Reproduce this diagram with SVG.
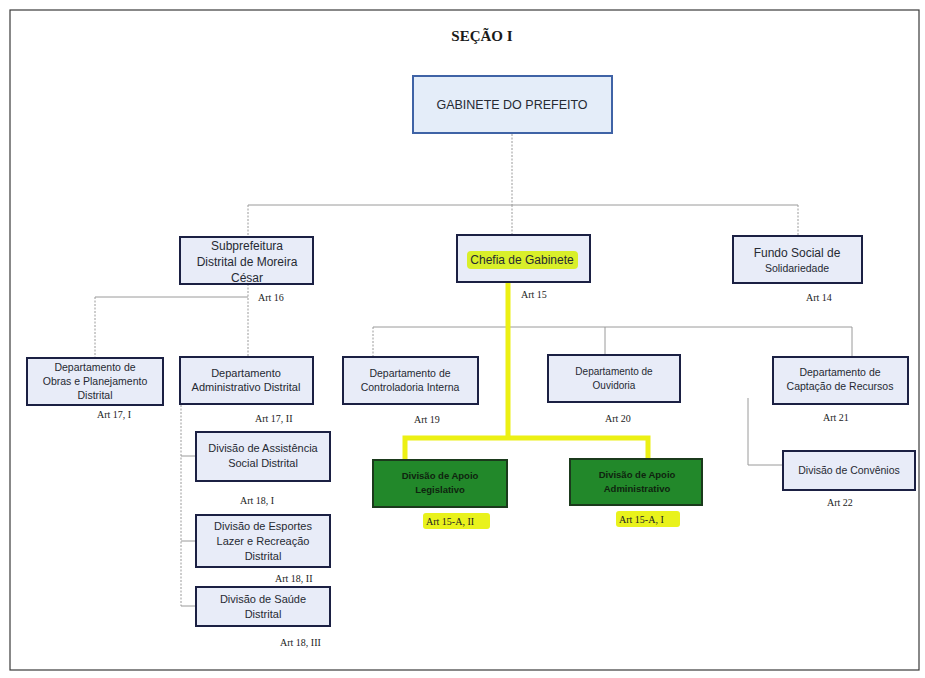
<svg xmlns="http://www.w3.org/2000/svg" width="925" height="678" viewBox="0 0 925 678">
  <defs>
    <style>
      .frame { fill: #ffffff; stroke: #3a3a3a; stroke-width: 1.2; }
      .title { font-family: "Liberation Serif", serif; font-weight: bold; font-size: 15px; fill: #1a1a1a; text-anchor: middle; }
      .box { fill: #e8ecf8; stroke: #1b2043; stroke-width: 2; }
      .top { fill: #e4edf9; stroke: #3f63a6; stroke-width: 2; }
      .green { fill: #22882a; stroke: #1b3a1c; stroke-width: 2; }
      .t { font-family: "Liberation Sans", Arial, sans-serif; fill: #262a33; text-anchor: middle; }
      .tg { font-family: "Liberation Sans", Arial, sans-serif; font-weight: bold; font-size: 9.5px; fill: #0f240f; text-anchor: middle; }
      .art { font-family: "Liberation Serif", serif; font-size: 10px; fill: #222222; }
      .ln { fill: none; stroke: #9a9a9a; stroke-width: 1; }
      .dot { fill: none; stroke: #9a9a9a; stroke-width: 1; stroke-dasharray: 2 1.5; }
      .hl { fill: none; stroke: #ecf014; stroke-width: 5; stroke-linejoin: miter; }
      .mark { fill: #e9f21c; }
      .mark2 { fill: #d9ef2a; }
    </style>
  </defs>

  <!-- page frame -->
  <rect class="frame" x="10" y="10" width="909" height="660"/>
  <text class="title" x="482" y="41">SEÇÃO I</text>

  <!-- connectors -->
  <g id="connectors">
    <path class="dot" d="M512 134 V205"/>
    <path class="ln" d="M248 205 H798"/>
    <path class="dot" d="M248 205 V237"/>
    <path class="dot" d="M512 205 V235"/>
    <path class="dot" d="M798 205 V236"/>

    <path class="dot" d="M248 284 V357"/>
    <path class="ln" d="M95 297 H248"/>
    <path class="dot" d="M95 297 V358"/>

    <path class="dot" d="M181 405 V606"/>
    <path class="ln" d="M181 456 H196"/>
    <path class="ln" d="M181 541 H196"/>
    <path class="ln" d="M181 606 H196"/>

    <path class="ln" d="M373 327 H852"/>
    <path class="dot" d="M373 327 V357"/>
    <path class="ln" d="M605 327 V355"/>
    <path class="ln" d="M852 327 V357"/>

    <path class="ln" d="M748 398 V465 H783"/>

    <path class="hl" d="M508 283 V438 M405 460 V438 H648 V459"/>
  </g>

  <g id="gabinete-prefeito">
    <rect class="top" x="413" y="76" width="199" height="57"/>
    <text class="t" x="512" y="109" font-size="12.5">GABINETE DO PREFEITO</text>
  </g>

  <g id="subprefeitura">
    <rect class="box" x="180" y="237" width="133" height="47"/>
    <text class="t" x="247" y="250" font-size="12">Subprefeitura</text>
    <text class="t" x="247" y="266" font-size="12">Distrital de Moreira</text>
    <text class="t" x="247" y="282" font-size="12">César</text>
    <text class="art" x="258" y="301">Art 16</text>
  </g>

  <g id="chefia-gabinete">
    <rect class="box" x="457" y="235" width="133" height="47"/>
    <rect class="mark2" x="467" y="251" width="111" height="18" rx="4"/>
    <text class="t" x="522" y="264" font-size="12">Chefia de Gabinete</text>
    <text class="art" x="521" y="298">Art 15</text>
  </g>

  <g id="fundo-social">
    <rect class="box" x="733" y="236" width="129" height="47"/>
    <text class="t" x="797" y="257" font-size="12">Fundo Social de</text>
    <text class="t" x="797" y="272" font-size="10.5">Solidariedade</text>
    <text class="art" x="806" y="301">Art 14</text>
  </g>

  <g id="dep-obras">
    <rect class="box" x="27" y="358" width="136" height="47"/>
    <text class="t" x="95" y="371" font-size="10.5">Departamento de</text>
    <text class="t" x="95" y="385" font-size="10.5">Obras e Planejamento</text>
    <text class="t" x="95" y="399" font-size="10.5">Distrital</text>
    <text class="art" x="97" y="418">Art 17, I</text>
  </g>

  <g id="dep-administrativo">
    <rect class="box" x="180" y="357" width="133" height="47"/>
    <text class="t" x="246" y="377" font-size="11">Departamento</text>
    <text class="t" x="246" y="391" font-size="11">Administrativo Distrital</text>
    <text class="art" x="255" y="422">Art 17, II</text>
  </g>

  <g id="dep-controladoria">
    <rect class="box" x="343" y="357" width="135" height="47"/>
    <text class="t" x="410" y="377" font-size="10.5">Departamento de</text>
    <text class="t" x="410" y="391" font-size="10.5">Controladoria Interna</text>
    <text class="art" x="414" y="423">Art 19</text>
  </g>

  <g id="dep-ouvidoria">
    <rect class="box" x="548" y="355" width="132" height="47"/>
    <text class="t" x="614" y="375" font-size="10">Departamento de</text>
    <text class="t" x="614" y="389" font-size="10">Ouvidoria</text>
    <text class="art" x="605" y="422">Art 20</text>
  </g>

  <g id="dep-captacao">
    <rect class="box" x="773" y="357" width="135" height="47"/>
    <text class="t" x="840" y="376" font-size="10.5">Departamento de</text>
    <text class="t" x="840" y="390" font-size="10.5">Captação de Recursos</text>
    <text class="art" x="823" y="421">Art 21</text>
  </g>

  <g id="div-convenios">
    <rect class="box" x="783" y="451" width="132" height="39"/>
    <text class="t" x="849" y="474" font-size="10.5">Divisão de Convênios</text>
    <text class="art" x="827" y="506">Art 22</text>
  </g>

  <g id="div-apoio-legislativo">
    <rect class="green" x="373" y="460" width="134" height="47"/>
    <text class="tg" x="440" y="479">Divisão de Apoio</text>
    <text class="tg" x="440" y="493">Legislativo</text>
    <rect class="mark" x="423" y="513" width="67" height="16" rx="3"/>
    <text class="art" x="426" y="525">Art 15-A, II</text>
  </g>

  <g id="div-apoio-administrativo">
    <rect class="green" x="570" y="459" width="132" height="46"/>
    <text class="tg" x="637" y="478">Divisão de Apoio</text>
    <text class="tg" x="637" y="492">Administrativo</text>
    <rect class="mark" x="616" y="511" width="64" height="16" rx="3"/>
    <text class="art" x="619" y="523">Art 15-A, I</text>
  </g>

  <g id="div-assistencia">
    <rect class="box" x="196" y="432" width="134" height="49"/>
    <text class="t" x="263" y="452" font-size="11">Divisão de Assistência</text>
    <text class="t" x="263" y="467" font-size="11">Social Distrital</text>
    <text class="art" x="240" y="504">Art 18, I</text>
  </g>

  <g id="div-esportes">
    <rect class="box" x="196" y="515" width="134" height="52"/>
    <text class="t" x="263" y="530" font-size="11">Divisão de Esportes</text>
    <text class="t" x="263" y="545" font-size="11">Lazer e Recreação</text>
    <text class="t" x="263" y="560" font-size="11">Distrital</text>
    <text class="art" x="275" y="582">Art 18, II</text>
  </g>

  <g id="div-saude">
    <rect class="box" x="196" y="587" width="134" height="39"/>
    <text class="t" x="263" y="603" font-size="11">Divisão de Saúde</text>
    <text class="t" x="263" y="618" font-size="11">Distrital</text>
    <text class="art" x="280" y="646">Art 18, III</text>
  </g>
</svg>
